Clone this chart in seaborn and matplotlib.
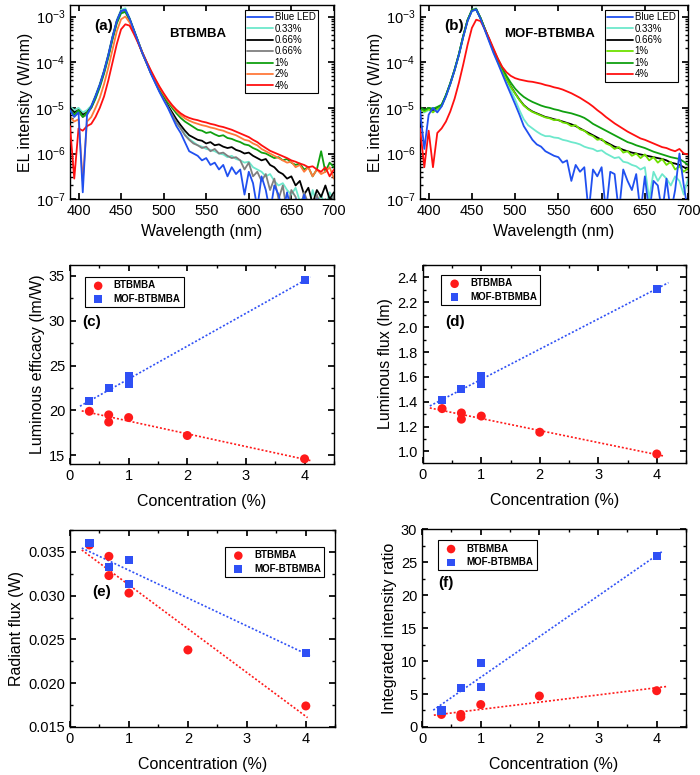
import numpy as np
import matplotlib
matplotlib.use('Agg')
import matplotlib.pyplot as plt
import seaborn as sns
from matplotlib.ticker import MultipleLocator, LogLocator, NullFormatter

wavelength = [390, 395, 400, 405, 410, 415, 420, 425, 430, 435,
              440, 445, 450, 455, 460, 465, 470, 475, 480, 485,
              490, 495, 500, 505, 510, 515, 520, 525, 530, 535,
              540, 545, 550, 555, 560, 565, 570, 575, 580, 585,
              590, 595, 600, 605, 610, 615, 620, 625, 630, 635,
              640, 645, 650, 655, 660, 665, 670, 675, 680, 685,
              690, 695, 700]

# panel (a) BTBMBA, log10 of EL intensity (W/nm)
a_blue_led = [-5.05, -5.20, -5.10, -6.85, -5.15, -4.97, -4.75, -4.50, -4.20, -3.85,
              -3.45, -3.10, -2.88, -2.85, -3.05, -3.30, -3.55, -3.80, -4.02, -4.25,
              -4.45, -4.65, -4.83, -5.00, -5.20, -5.40, -5.55, -5.75, -5.95, -6.00,
              -6.05, -6.15, -6.10, -6.25, -6.20, -6.35, -6.25, -6.50, -6.30, -6.45,
              -6.35, -6.90, -6.40, -6.65, -7.20, -6.50, -6.80, -7.30, -6.70, -6.90,
              -7.30, -6.85, -7.30, -7.00, -7.30, -6.90, -7.30, -7.30, -7.00, -7.30,
              -7.30, -7.10, -7.30]
a_033 = [-4.97, -5.05, -5.00, -5.10, -5.05, -4.95, -4.72, -4.47, -4.17, -3.82,
         -3.42, -3.07, -2.85, -2.82, -3.03, -3.28, -3.53, -3.79, -4.01, -4.24,
         -4.44, -4.63, -4.80, -4.98, -5.15, -5.32, -5.45, -5.58, -5.68, -5.75,
         -5.82, -5.85, -5.90, -5.92, -5.95, -6.00, -6.02, -6.08, -6.05, -6.12,
         -6.15, -6.20, -6.18, -6.30, -6.35, -6.40, -6.50, -6.45, -6.60, -6.70,
         -6.65, -6.80, -6.90, -6.75, -7.05, -6.95, -7.30, -6.80, -7.10, -6.90,
         -7.20, -6.85, -7.00]
a_066_1 = [-5.00, -5.10, -5.05, -5.15, -5.10, -4.98, -4.75, -4.50, -4.20, -3.85,
           -3.45, -3.10, -2.88, -2.86, -3.05, -3.30, -3.55, -3.80, -4.02, -4.24,
           -4.43, -4.62, -4.78, -4.95, -5.10, -5.25, -5.38, -5.50, -5.60, -5.65,
           -5.70, -5.72, -5.78, -5.75, -5.82, -5.80, -5.85, -5.88, -5.86, -5.92,
           -5.95, -6.00, -5.98, -6.05, -6.10, -6.15, -6.12, -6.25, -6.30, -6.40,
           -6.45, -6.55, -6.50, -6.70, -6.60, -6.90, -6.75, -7.10, -6.80, -6.95,
           -6.70, -7.00, -6.85]
a_066_2 = [-5.05, -5.15, -5.10, -5.20, -5.15, -5.00, -4.77, -4.52, -4.22, -3.87,
           -3.47, -3.12, -2.90, -2.88, -3.07, -3.31, -3.56, -3.81, -4.02, -4.24,
           -4.43, -4.63, -4.80, -4.98, -5.15, -5.32, -5.45, -5.60, -5.70, -5.78,
           -5.82, -5.88, -5.85, -5.95, -5.90, -6.00, -5.98, -6.05, -6.10, -6.08,
           -6.15, -6.35, -6.20, -6.50, -6.40, -6.60, -6.45, -6.80, -6.55, -7.00,
           -6.70, -7.30, -6.80, -6.95, -7.30, -6.85, -7.10, -7.30, -6.90, -7.20,
           -7.00, -7.30, -6.90]
a_1 = [-5.05, -5.15, -5.05, -5.20, -5.10, -5.00, -4.80, -4.55, -4.25, -3.90,
       -3.50, -3.15, -2.93, -2.90, -3.08, -3.31, -3.55, -3.79, -4.00, -4.21,
       -4.40, -4.58, -4.73, -4.88, -5.00, -5.12, -5.22, -5.30, -5.36, -5.42,
       -5.48, -5.50, -5.55, -5.53, -5.58, -5.62, -5.60, -5.66, -5.68, -5.72,
       -5.75, -5.80, -5.82, -5.88, -5.92, -5.98, -6.00, -6.05, -6.10, -6.08,
       -6.15, -6.12, -6.20, -6.25, -6.22, -6.35, -6.30, -6.50, -6.35, -5.95,
       -6.40, -6.20, -6.30]
a_2 = [-5.20, -5.30, -5.25, -6.60, -5.30, -5.20, -5.00, -4.78, -4.48, -4.12,
       -3.72, -3.32, -3.06, -3.00, -3.13, -3.33, -3.56, -3.79, -4.00, -4.20,
       -4.38, -4.55, -4.70, -4.84, -4.96, -5.07, -5.16, -5.23, -5.28, -5.32,
       -5.35, -5.38, -5.40, -5.43, -5.45, -5.48, -5.50, -5.54, -5.57, -5.60,
       -5.65, -5.70, -5.72, -5.78, -5.82, -5.90, -5.95, -6.00, -6.05, -6.10,
       -6.15, -6.20, -6.18, -6.30, -6.25, -6.40, -6.30, -6.50, -6.35, -6.45,
       -6.40, -6.30, -6.55]
a_4 = [-5.40, -6.55, -5.45, -5.50, -5.40, -5.35, -5.20, -5.00, -4.75, -4.40,
       -4.00, -3.60, -3.28, -3.17, -3.20, -3.38, -3.58, -3.79, -3.99, -4.18,
       -4.36, -4.53, -4.68, -4.82, -4.94, -5.04, -5.12, -5.18, -5.22, -5.25,
       -5.27, -5.30, -5.32, -5.35, -5.37, -5.40, -5.42, -5.45, -5.48, -5.52,
       -5.56, -5.60, -5.64, -5.70, -5.75, -5.82, -5.88, -5.94, -5.98, -6.02,
       -6.06, -6.10, -6.15, -6.18, -6.22, -6.25, -6.30, -6.28, -6.35, -6.40,
       -6.30, -6.50, -6.35]

# panel (b) MOF-BTBMBA, log10 of EL intensity (W/nm)
b_blue_led = [-5.05, -5.90, -5.15, -5.00, -5.10, -4.97, -4.75, -4.48, -4.18, -3.84,
              -3.45, -3.10, -2.88, -2.85, -3.05, -3.30, -3.55, -3.80, -4.02, -4.25,
              -4.48, -4.70, -4.92, -5.15, -5.40, -5.55, -5.70, -5.80, -5.85, -5.95,
              -6.00, -6.05, -6.08, -6.20, -6.15, -6.60, -6.25, -6.40, -6.30, -7.30,
              -6.35, -6.50, -6.30, -7.30, -6.40, -6.45, -7.30, -6.35, -6.60, -6.80,
              -6.45, -7.30, -6.50, -7.30, -6.60, -6.70, -7.30, -6.55, -7.30, -6.80,
              -6.00, -6.70, -7.30]
b_033 = [-5.00, -5.10, -5.05, -5.00, -5.05, -4.95, -4.72, -4.46, -4.16, -3.82,
         -3.42, -3.07, -2.85, -2.82, -3.03, -3.28, -3.53, -3.78, -4.00, -4.22,
         -4.42, -4.62, -4.82, -5.05, -5.25, -5.38, -5.45, -5.52, -5.58, -5.62,
         -5.62, -5.65, -5.66, -5.70, -5.72, -5.75, -5.77, -5.80, -5.85, -5.88,
         -5.90, -5.95, -5.93, -6.00, -6.05, -6.10, -6.08, -6.18, -6.20, -6.25,
         -6.28, -6.35, -6.30, -7.00, -6.40, -6.60, -6.45, -6.55, -6.70, -6.50,
         -6.60, -6.90, -6.55]
b_066 = [-5.00, -5.05, -5.00, -5.05, -5.00, -4.95, -4.73, -4.47, -4.17, -3.83,
         -3.43, -3.08, -2.86, -2.84, -3.03, -3.27, -3.51, -3.75, -3.96, -4.17,
         -4.36, -4.53, -4.68, -4.82, -4.94, -5.02, -5.08, -5.12, -5.16, -5.20,
         -5.22, -5.25, -5.27, -5.30, -5.33, -5.36, -5.40, -5.45, -5.50, -5.55,
         -5.60, -5.65, -5.70, -5.75, -5.80, -5.85, -5.88, -5.92, -5.95, -5.98,
         -6.00, -6.02, -6.04, -6.06, -6.08, -6.10, -6.12, -6.15, -6.20, -6.22,
         -6.25, -6.30, -6.35]
b_1_1 = [-5.02, -5.08, -5.03, -5.10, -5.02, -4.96, -4.74, -4.48, -4.18, -3.84,
         -3.44, -3.09, -2.87, -2.85, -3.04, -3.28, -3.52, -3.76, -3.97, -4.18,
         -4.37, -4.54, -4.69, -4.83, -4.95, -5.03, -5.09, -5.13, -5.17, -5.21,
         -5.23, -5.27, -5.26, -5.32, -5.34, -5.40, -5.38, -5.47, -5.50, -5.58,
         -5.62, -5.70, -5.68, -5.78, -5.82, -5.90, -5.86, -5.98, -5.95, -6.05,
         -6.00, -6.10, -6.02, -6.15, -6.08, -6.20, -6.12, -6.25, -6.18, -6.35,
         -6.28, -6.40, -6.32]
b_1_2 = [-4.98, -5.05, -5.00, -5.02, -4.98, -4.93, -4.72, -4.46, -4.16, -3.82,
         -3.42, -3.08, -2.87, -2.85, -3.04, -3.27, -3.50, -3.73, -3.93, -4.12,
         -4.30, -4.45, -4.58, -4.68, -4.76, -4.82, -4.87, -4.91, -4.95, -4.98,
         -5.00, -5.03, -5.05, -5.08, -5.10, -5.12, -5.15, -5.18, -5.22, -5.28,
         -5.35, -5.40, -5.45, -5.50, -5.55, -5.60, -5.65, -5.70, -5.75, -5.78,
         -5.82, -5.85, -5.88, -5.92, -5.96, -5.99, -6.02, -6.05, -6.08, -6.10,
         -6.12, -6.18, -6.25]
b_4 = [-5.45, -6.30, -5.50, -6.30, -5.55, -5.45, -5.30, -5.08, -4.80, -4.45,
       -4.05, -3.62, -3.25, -3.07, -3.10, -3.28, -3.48, -3.70, -3.92, -4.10,
       -4.22, -4.30, -4.35, -4.38, -4.40, -4.42, -4.43, -4.45, -4.47, -4.50,
       -4.52, -4.55, -4.57, -4.60, -4.64, -4.68, -4.73, -4.78, -4.84, -4.90,
       -4.97, -5.05, -5.12, -5.20, -5.27, -5.34, -5.40, -5.46, -5.52, -5.57,
       -5.62, -5.67, -5.70, -5.74, -5.78, -5.82, -5.86, -5.88, -5.92, -5.95,
       -5.90, -6.00, -6.02]

# concentration (%) series
conc_bt = [0.33, 0.66, 0.66, 1, 2, 4]
conc_mof = [0.33, 0.66, 1, 1, 4]
efficacy_bt = [19.9, 19.5, 18.7, 19.2, 17.2, 14.6]
efficacy_mof = [21.0, 22.5, 23.8, 23.0, 34.5]
lum_flux_bt = [1.345, 1.31, 1.26, 1.285, 1.155, 0.98]
lum_flux_mof = [1.415, 1.505, 1.61, 1.545, 2.31]
rad_flux_bt = [0.0358, 0.0345, 0.0323, 0.0303, 0.0238, 0.0174]
rad_flux_mof = [0.0360, 0.0333, 0.0341, 0.0313, 0.0235]
ratio_bt = [1.9, 1.9, 1.5, 3.4, 4.7, 5.5]
ratio_mof = [2.5, 5.9, 9.7, 6.0, 25.9]

C_BLUE = '#2050f0'
C_AQUA = '#6de8cc'
C_GRAY = '#7f7f7f'
C_GREEN = '#10a010'
C_LGREEN = '#6ee000'
C_ORANGE = '#ff7a3a'
C_RED = '#ff1010'
C_PT_RED = '#ff1a1a'
C_PT_BLUE = '#2f50f5'

sns.set_theme(style='ticks')
plt.rcParams['font.family'] = ['Liberation Sans', 'DejaVu Sans']
plt.rcParams.update({
    'mathtext.default': 'regular',
    'axes.edgecolor': 'black',
    'axes.linewidth': 1.0,
    'text.color': 'black',
    'axes.labelcolor': 'black',
    'xtick.color': 'black',
    'ytick.color': 'black',
    'xtick.direction': 'in',
    'ytick.direction': 'in',
    'xtick.top': True,
    'ytick.right': True,
    'xtick.major.size': 4,
    'ytick.major.size': 4,
    'xtick.minor.size': 2,
    'ytick.minor.size': 2,
    'xtick.labelsize': 10.5,
    'ytick.labelsize': 10.5,
    'axes.labelsize': 11.5,
})


def spectrum_panel(ax, curves, tag, title, leg_box):
    wl = np.array(wavelength)
    for vals, color, label, z in curves:
        sns.lineplot(x=wl, y=10 ** np.array(vals), color=color, label=label,
                     linewidth=1.3, ax=ax, zorder=z)
    ax.set_yscale('log')
    ax.set_xlim(390, 700)
    ax.set_ylim(1e-7, 1.75e-3)
    ax.xaxis.set_major_locator(MultipleLocator(50))
    ax.yaxis.set_major_locator(LogLocator(base=10, numticks=10))
    ax.yaxis.set_minor_locator(LogLocator(base=10, subs=np.arange(2, 10), numticks=10))
    ax.yaxis.set_minor_formatter(NullFormatter())
    ax.set_xlabel('Wavelength (nm)')
    ax.set_ylabel('EL intensity (W/nm)', labelpad=2)
    ax.text(0.09, 0.895, tag, transform=ax.transAxes, fontsize=11,
            fontweight='bold', ha='left', va='center')
    ax.text(0.485, 0.85, title, transform=ax.transAxes, fontsize=9.5,
            fontweight='bold', ha='center', va='center')
    leg = ax.legend(loc='upper left', bbox_to_anchor=leg_box, fontsize=7,
                    frameon=True, fancybox=False, edgecolor='black',
                    framealpha=1, borderpad=0.25, labelspacing=0.15,
                    handlelength=2.6, handletextpad=0.2, borderaxespad=0)
    leg.get_frame().set_linewidth(0.8)


def scatter_panel(ax, y_bt, y_mof, fit_bt, fit_mof, ylim, major, ylabel,
                  tag, tag_pos, leg_box):
    sns.scatterplot(x=conc_bt, y=y_bt, marker='o', color=C_PT_RED, s=42,
                    edgecolor='none', label='BTBMBA', ax=ax, zorder=3)
    sns.scatterplot(x=conc_mof, y=y_mof, marker='s', color=C_PT_BLUE, s=34,
                    edgecolor='none', label='MOF-BTBMBA', ax=ax, zorder=3)
    for xs, ys, rng, col in [(conc_bt, y_bt, fit_bt, C_PT_RED),
                             (conc_mof, y_mof, fit_mof, C_PT_BLUE)]:
        k, b = np.polyfit(xs, ys, 1)
        xf = np.array(rng)
        ax.plot(xf, k * xf + b, linestyle=(0, (1.2, 1.2)), color=col,
                linewidth=1.2, zorder=2)
    ax.set_xlim(0, 4.5)
    ax.set_ylim(*ylim)
    ax.xaxis.set_major_locator(MultipleLocator(1))
    ax.xaxis.set_minor_locator(MultipleLocator(0.5))
    ax.yaxis.set_major_locator(MultipleLocator(major))
    ax.yaxis.set_minor_locator(MultipleLocator(major / 2))
    ax.set_xlabel('Concentration (%)', labelpad=8)
    ax.set_ylabel(ylabel, labelpad=3)
    ax.text(tag_pos[0], tag_pos[1], tag, transform=ax.transAxes, fontsize=11,
            fontweight='bold', ha='left', va='center')
    leg = ax.legend(loc='upper left', bbox_to_anchor=leg_box,
                    prop={'size': 7, 'weight': 'bold'}, frameon=True,
                    fancybox=False, edgecolor='black', framealpha=1,
                    borderpad=0.35, labelspacing=0.35, handletextpad=0.6,
                    borderaxespad=0, markerscale=0.95)
    leg.get_frame().set_linewidth(0.8)


fig = plt.figure(figsize=(7, 7.75), dpi=100)

ax_a = fig.add_axes([0.100, 0.743, 0.377, 0.250])
ax_b = fig.add_axes([0.600, 0.743, 0.383, 0.250])
ax_c = fig.add_axes([0.100, 0.401, 0.377, 0.257])
ax_d = fig.add_axes([0.604, 0.403, 0.376, 0.255])
ax_e = fig.add_axes([0.100, 0.062, 0.379, 0.254])
ax_f = fig.add_axes([0.603, 0.062, 0.377, 0.255])

spectrum_panel(ax_a, [
    (a_blue_led, C_BLUE, 'Blue LED', 4),
    (a_033, C_AQUA, '0.33%', 2),
    (a_066_1, 'black', '0.66%', 2),
    (a_066_2, C_GRAY, '0.66%', 2),
    (a_1, C_GREEN, '1%', 2),
    (a_2, C_ORANGE, '2%', 2),
    (a_4, C_RED, '4%', 3),
], '(a)', 'BTBMBA', (0.663, 0.978))

spectrum_panel(ax_b, [
    (b_blue_led, C_BLUE, 'Blue LED', 4),
    (b_033, C_AQUA, '0.33%', 2),
    (b_066, 'black', '0.66%', 2),
    (b_1_1, C_LGREEN, '1%', 2),
    (b_1_2, C_GREEN, '1%', 2),
    (b_4, C_RED, '4%', 3),
], '(b)', 'MOF-BTBMBA', (0.69, 0.978))

scatter_panel(ax_c, efficacy_bt, efficacy_mof, (0.2, 4.1), (0.17, 4.1),
              (14.0, 36.2), 5, 'Luminous efficacy (lm/W)', '(c)',
              (0.045, 0.714), (0.057, 0.94))
scatter_panel(ax_d, lum_flux_bt, lum_flux_mof, (0.12, 4.13), (0.12, 4.2),
              (0.91, 2.5), 0.2, 'Luminous flux (lm)', '(d)',
              (0.084, 0.714), (0.071, 0.95))
scatter_panel(ax_e, rad_flux_bt, rad_flux_mof, (0.2, 4.03), (0.2, 4.07),
              (0.015, 0.0375), 0.005, 'Radiant flux (W)', '(e)',
              (0.083, 0.687), (0.585, 0.915))
scatter_panel(ax_f, ratio_bt, ratio_mof, (0.2, 4.19), (0.19, 4.1),
              (0, 30), 5, 'Integrated intensity ratio', '(f)',
              (0.06, 0.727), (0.06, 0.945))
ax_c.yaxis.set_major_formatter(matplotlib.ticker.FormatStrFormatter('%d'))
ax_f.yaxis.set_major_formatter(matplotlib.ticker.FormatStrFormatter('%d'))
ax_d.yaxis.set_major_formatter(matplotlib.ticker.FormatStrFormatter('%.1f'))
ax_e.yaxis.set_major_formatter(matplotlib.ticker.FormatStrFormatter('%.3f'))

fig.savefig('out.png', dpi=100)
